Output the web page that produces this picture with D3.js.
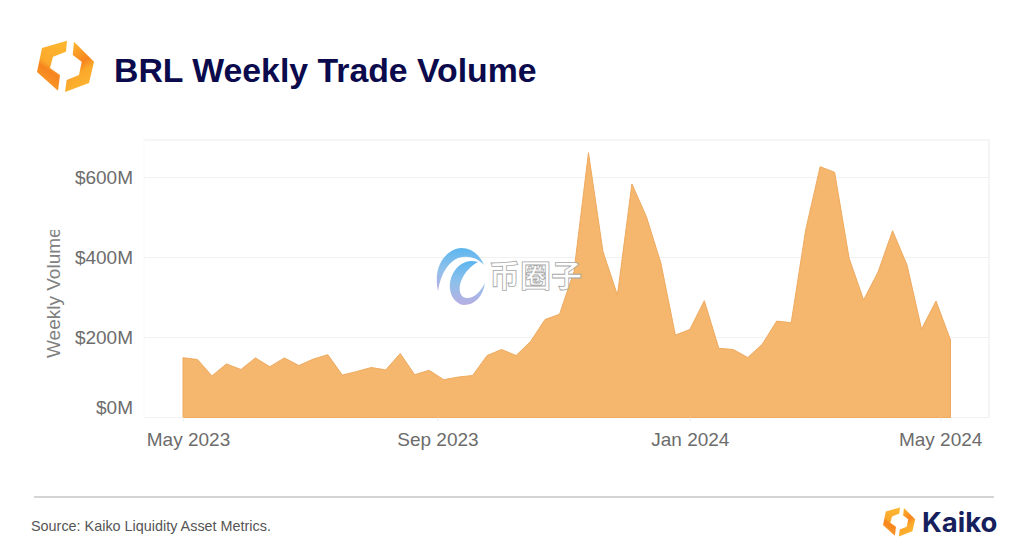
<!doctype html>
<html>
<head>
<meta charset="utf-8">
<title>BRL Weekly Trade Volume</title>
<script src="https://d3js.org/d3.v7.min.js"></script>
<style>
body { margin: 0; background: #fff; }
svg { display: block; font-family: "Liberation Sans", Arial, sans-serif; }
</style>
</head>
<body>
<svg width="1024" height="552"></svg>
<script>
// weekly volume in $M, one value per Monday from 1 May 2023
var volume = [149.5, 145, 104, 134, 120, 149, 127, 149, 130, 146, 157, 106, 115, 125, 119, 160, 107, 118,
    94.5, 101, 105, 155, 170, 155, 190, 245, 258, 365, 662, 415, 306, 584, 502, 386, 206, 220, 292, 173,
    170, 150, 183, 241, 237, 469, 627, 613, 398, 294, 364, 467, 381, 221, 291, 194]
var start_date = new Date(2023, 4, 1)
var y_ticks = [0, 200, 400, 600]
var x_ticks = [new Date(2023, 4, 1), new Date(2023, 8, 1), new Date(2024, 0, 1), new Date(2024, 4, 1)]
var dates = volume.map(function (d, i) { return d3.timeDay.offset(start_date, i * 7) })

var svg = d3.select("svg")
var defs = svg.append("defs")

var plot_left = 144
var plot_right = 989
var plot_top = 140
var plot_bottom = 417.5

var x = d3.scaleTime().domain([start_date, dates[dates.length - 1]]).range([183, 950.5])
var y = d3.scaleLinear().domain([0, 600]).range([plot_bottom, 177.5])

function gradient(id, x1, y1, x2, y2, stops) {
    var g = defs.append("linearGradient").attr("id", id)
        .attr("x1", x1).attr("y1", y1).attr("x2", x2).attr("y2", y2)
    stops.forEach(function (s) {
        g.append("stop").attr("offset", s[0]).attr("stop-color", s[1])
    })
}
gradient("logo_left", 0.7, 0, 0.3, 1, [[0, "#fdb62f"], [0.5, "#fba92c"], [0.62, "#f7841f"], [1, "#fa9f2a"]])
gradient("logo_right", 0.3, 0, 0.7, 1, [[0, "#fdb62f"], [0.45, "#f7841f"], [0.62, "#fba92c"], [1, "#fdb62f"]])
gradient("ring", 0.5, 0, 0.5, 1, [[0, "#5cb6ef"], [0.5, "#8fc0ea"], [1, "#b8aee2"]])

// plot frame and grid
svg.append("path")
    .attr("d", "M" + plot_left + "," + plot_top + "H" + plot_right + "V" + plot_bottom)
    .attr("fill", "none").attr("stroke", "#eeeeee").attr("stroke-width", 1.2)
svg.append("line")
    .attr("x1", plot_left).attr("x2", plot_left).attr("y1", plot_top).attr("y2", plot_bottom)
    .attr("stroke", "#f8f8f8")

svg.append("g").selectAll("line")
    .data(y_ticks)
    .enter().append("line")
    .attr("x1", plot_left).attr("x2", plot_right)
    .attr("y1", function (d) { return y(d) }).attr("y2", function (d) { return y(d) })
    .attr("stroke", "#f1f1f1").attr("stroke-width", 1.2)

// volume area
var area = d3.area()
    .x(function (d, i) { return x(dates[i]) })
    .y0(y(0))
    .y1(function (d) { return y(d) })
svg.append("path")
    .datum(volume)
    .attr("d", area)
    .attr("fill", "#f5b66d")
    .attr("stroke", "#eeaa60")
    .attr("stroke-width", 1)
    .attr("stroke-linejoin", "round")

// axes
var x_axis = svg.append("g")
    .attr("transform", "translate(0," + plot_bottom + ")")
    .call(d3.axisBottom(x).tickValues(x_ticks).tickFormat(d3.timeFormat("%b %Y")).tickSize(4).tickPadding(11))
x_axis.select(".domain").remove()
x_axis.selectAll("line").attr("stroke", "#eeeeee")
x_axis.selectAll("text")
    .attr("font-family", "Liberation Sans").attr("font-size", "19px").attr("fill", "#6c6c6c")
// first label sits a little right of its tick in the original
x_axis.selectAll("text").filter(function (d) { return +d === +x_ticks[0] }).attr("dx", 5)

var y_axis = svg.append("g")
    .attr("transform", "translate(" + plot_left + ",0)")
    .call(d3.axisLeft(y).tickValues(y_ticks).tickFormat(function (d) { return "$" + d + "M" }).tickSize(0).tickPadding(11))
y_axis.select(".domain").remove()
y_axis.selectAll("text")
    .attr("font-family", "Liberation Sans").attr("font-size", "19px").attr("fill", "#6c6c6c")
// lowest label is lifted off the baseline
y_axis.selectAll("text").filter(function (d) { return d === 0 }).attr("y", -10)

// y title is cut off at its end in the original
defs.append("clipPath").attr("id", "title_clip")
    .append("rect").attr("x", 30).attr("y", 230).attr("width", 40).attr("height", 140)
svg.append("g").attr("clip-path", "url(#title_clip)")
    .append("text")
    .attr("transform", "translate(60,358) rotate(-90)")
    .attr("font-size", "19px").attr("fill", "#808080")
    .text("Weekly Volume")

// header
function logo(tx, ty, k) {
    var g = svg.append("g").attr("transform", "translate(" + tx + "," + ty + ") scale(" + k + ")")
    g.append("path")
        .attr("d", "M30,0.7 L5,8 L0,32 L21,50.7 L23,35 L13,28 L16,16.7 L29,11.7 Z")
        .attr("fill", "url(#logo_left)")
    g.append("path")
        .attr("d", "M37,1.7 L57,21.7 L52,43 L28,52 L29.7,40 L42,35 L44.7,21.7 L35.7,15 Z")
        .attr("fill", "url(#logo_right)")
}
logo(37, 40, 1)

svg.append("text")
    .attr("x", 114).attr("y", 82)
    .attr("font-size", "33.8px").attr("font-weight", "bold").attr("fill", "#0a0a4c")
    .text("BRL Weekly Trade Volume")

// watermark
var wm = svg.append("g")
wm.append("path")
    .attr("d", "M484,265 C478,250 462,243 450,252 C440,259 434,272 438,291 C441,272 449,262 458,258 C467,255 477,257 484,265 Z")
    .attr("fill", "url(#ring)")
wm.append("path")
    .attr("d", "M478,262 C466,258 455,266 451,278 C447,292 454,304 464,305 C475,305 483,296 485,283 C480,293 473,299 466,298 C459,297 458,287 462,279 C465,272 471,266 478,262 Z")
    .attr("fill", "url(#ring)")
wm.append("text")
    .attr("x", 489).attr("y", 287)
    .attr("font-family", "Noto Sans CJK SC").attr("font-size", "31px").attr("font-weight", "bold")
    .attr("fill", "#ffffff").attr("stroke", "#a8a8a8").attr("stroke-width", 0.8)
    .text("币圈子")

// footer
svg.append("line")
    .attr("x1", 34).attr("x2", 994).attr("y1", 497).attr("y2", 497)
    .attr("stroke", "#aaaaaa").attr("stroke-width", 1)
svg.append("text")
    .attr("x", 31).attr("y", 531)
    .attr("font-size", "14.4px").attr("fill", "#555555")
    .text("Source: Kaiko Liquidity Asset Metrics.")

logo(883, 507, 0.565)
svg.append("text")
    .attr("x", 922).attr("y", 532)
    .attr("font-family", "Inter").attr("font-size", "27.5px").attr("font-weight", "bold").attr("fill", "#16205c")
    .text("Kaiko")
</script>
</body>
</html>
